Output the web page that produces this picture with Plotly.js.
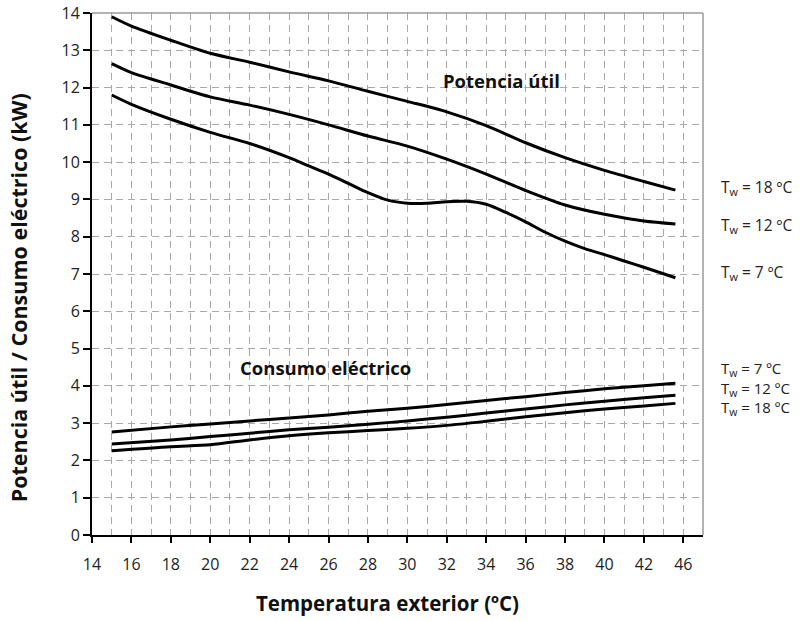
<!DOCTYPE html>
<html>
<head>
<meta charset="utf-8">
<script src="https://cdn.plot.ly/plotly-3.0.1.min.js"></script>
<style>html,body{margin:0;padding:0;background:#fff;}#chart{width:804px;height:621px;}</style>
</head>
<body>
<div id="chart"></div>
<script>
// Potencia útil curves
const tempP18 = [15, 16, 18, 20, 22, 24, 26, 28, 30, 32, 34, 36, 38, 40, 42, 43.6];
const powP18  = [13.9, 13.65, 13.27, 12.92, 12.68, 12.42, 12.18, 11.9, 11.63, 11.35, 10.98, 10.52, 10.12, 9.78, 9.48, 9.25];
const tempP12 = [15, 16, 18, 20, 22, 24, 26, 28, 30, 32, 34, 36, 38, 40, 42, 43.6];
const powP12  = [12.64, 12.4, 12.07, 11.75, 11.53, 11.28, 11.0, 10.7, 10.43, 10.08, 9.68, 9.24, 8.85, 8.6, 8.42, 8.34];
const tempP7  = [15, 16, 18, 20, 22, 24, 25, 26, 27, 28, 29, 30, 31, 32, 33, 34, 35, 36, 37, 38, 39, 40, 41, 42, 43.6];
const powP7   = [11.8, 11.55, 11.15, 10.8, 10.5, 10.12, 9.9, 9.68, 9.43, 9.18, 8.98, 8.9, 8.9, 8.94, 8.95, 8.87, 8.65, 8.4, 8.12, 7.88, 7.68, 7.52, 7.35, 7.18, 6.9];
// Consumo eléctrico curves
const tempC = [15, 18, 20, 22, 24, 26, 28, 30, 32, 34, 36, 38, 40, 42, 43.6];
const consC7  = [2.76, 2.9, 2.98, 3.06, 3.14, 3.22, 3.32, 3.4, 3.5, 3.61, 3.71, 3.82, 3.92, 4.0, 4.07];
const consC12 = [2.44, 2.55, 2.64, 2.73, 2.82, 2.89, 2.97, 3.06, 3.16, 3.27, 3.38, 3.49, 3.59, 3.68, 3.75];
const consC18 = [2.26, 2.37, 2.42, 2.55, 2.66, 2.74, 2.8, 2.86, 2.94, 3.05, 3.17, 3.28, 3.38, 3.46, 3.53];

const xTickVals = [14, 16, 18, 20, 22, 24, 26, 28, 30, 32, 34, 36, 38, 40, 42, 44];
const xTickText = ["14", "16", "18", "20", "22", "24", "26", "28", "30", "32", "34", "36", "38", "40", "42", "46"];

// Curve labels (Tw values) on the right
const powerLabels = ["T<sub>w</sub> = 18 ºC", "T<sub>w</sub> = 12 ºC", "T<sub>w</sub> = 7 ºC"];
const powerLabelY = [9.31, 8.31, 7.03];
const consLabels  = ["T<sub>w</sub> = 7 ºC", "T<sub>w</sub> = 12 ºC", "T<sub>w</sub> = 18 ºC"];
const consLabelY  = 3.92;

const xTitle = "<b>Temperatura exterior (ºC)</b>";
const yTitle = "<b>Potencia útil / Consumo eléctrico (kW)</b>";

const FONT = "Open Sans, Noto Sans, sans-serif";
const line = {color: "#000", width: 3, shape: "spline", smoothing: 0.8};
const mk = (x, y, name) => ({x: x, y: y, name: name, type: "scatter", mode: "lines", line: line, hoverinfo: "skip", showlegend: false});

const data = [
  mk(tempP18, powP18, "P18"), mk(tempP12, powP12, "P12"), mk(tempP7, powP7, "P7"),
  mk(tempC, consC7, "C7"), mk(tempC, consC12, "C12"), mk(tempC, consC18, "C18")
];

const annotations = [
  {text: "<b>Potencia útil</b>", x: 34.78, y: 12.2, xref: "x", yref: "y", showarrow: false, font: {size: 18.5, color: "#111", family: FONT}},
  {text: "<b>Consumo eléctrico</b>", x: 25.87, y: 4.48, xref: "x", yref: "y", showarrow: false, font: {size: 18.5, color: "#111", family: FONT}},
  {text: xTitle, x: 0.483, y: -0.130, xref: "paper", yref: "paper", xanchor: "center", yanchor: "middle", showarrow: false, font: {size: 20.5, color: "#111", family: FONT}},
  {text: yTitle, x: -0.1206, y: 0.454, xref: "paper", yref: "paper", xanchor: "center", yanchor: "middle", textangle: -90, showarrow: false, font: {size: 21.5, color: "#111", family: FONT}},
  {text: consLabels.join("<br>"), x: 1.026, y: consLabelY, xref: "paper", yref: "y", xanchor: "left", yanchor: "middle",
   align: "left", showarrow: false, font: {size: 15, color: "#222", family: FONT}}
];
powerLabels.forEach((t, i) => annotations.push({
  text: t, x: 1.026, y: powerLabelY[i], xref: "paper", yref: "y", xanchor: "left", yanchor: "middle",
  showarrow: false, font: {size: 15.5, color: "#222", family: FONT}
}));

const grid = {color: "#a9a9a9", width: 1, dash: "7px,5px"};

const layout = {
  width: 804, height: 621,
  margin: {l: 92, r: 101, t: 13, b: 86},
  paper_bgcolor: "#fff", plot_bgcolor: "#fff",
  font: {family: FONT, color: "#222", size: 16},
  showlegend: false,
  xaxis: {
    range: [14, 45], tickmode: "array", tickvals: xTickVals, ticktext: xTickText,
    showline: true, linecolor: "#000", linewidth: 2,
    ticks: "outside", ticklen: 6, tickwidth: 2, tickcolor: "#000", ticklabelstandoff: 8,
    showgrid: true, gridcolor: grid.color, gridwidth: 1, griddash: grid.dash,
    minor: {dtick: 1, tick0: 14, showgrid: true, gridcolor: grid.color, gridwidth: 1, griddash: grid.dash, ticks: ""},
    zeroline: false, tickfont: {size: 16, color: "#222"}
  },
  yaxis: {
    range: [0, 14], dtick: 1, tick0: 0,
    showline: true, linecolor: "#000", linewidth: 2,
    ticks: "outside", ticklen: 7, tickwidth: 2, tickcolor: "#000",
    showgrid: true, gridcolor: grid.color, gridwidth: 1, griddash: grid.dash,
    zeroline: false, tickfont: {size: 16, color: "#222"}
  },
  shapes: [
    {type: "line", xref: "paper", yref: "paper", x0: 0, x1: 1, y0: 1, y1: 1, line: {color: "#9a9a9a", width: 1.5}},
    {type: "line", xref: "paper", yref: "paper", x0: 1, x1: 1, y0: 0, y1: 1, line: {color: "#9a9a9a", width: 1.5}}
  ],
  annotations: annotations
};

Plotly.newPlot("chart", data, layout, {displayModeBar: false, staticPlot: true});
</script>
</body>
</html>
